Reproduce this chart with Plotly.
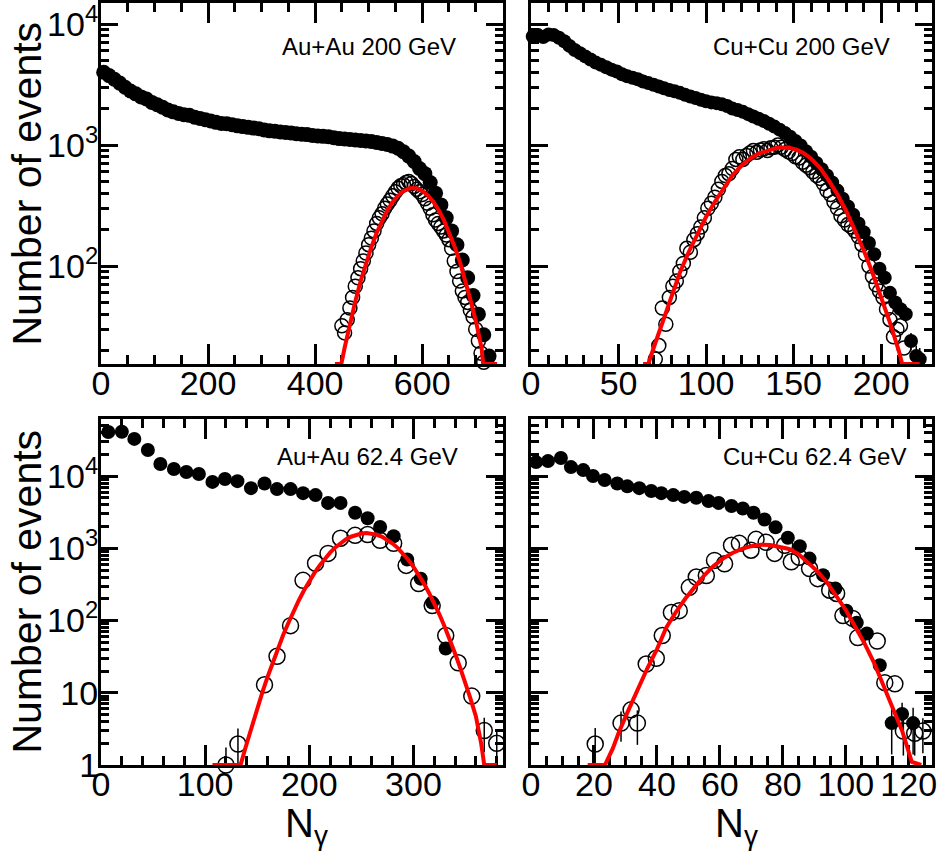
import plotly.graph_objects as go

FONT = "Liberation Sans, Arial, sans-serif"

# ---------------- Au+Au 200 GeV ----------------
auau200_filled_x = [5, 15, 25, 35, 45, 55, 65, 75, 85, 95, 105, 115, 125, 135, 145, 155, 165, 175, 185, 195,
                    205, 215, 225, 235, 245, 255, 265, 275, 285, 295, 305, 315, 325, 335, 345, 355, 365, 375,
                    385, 395, 405, 415, 425, 435, 445, 455, 465, 475, 485, 495, 505, 515, 525, 535, 545, 555,
                    565, 575, 585, 595, 605, 615, 625, 635, 645, 655, 665, 675, 685, 695, 705, 715, 725]
auau200_filled_y = [4000, 3750, 3500, 3250, 3000, 2800, 2650, 2500, 2400, 2250, 2150, 2050, 1950, 1880, 1820,
                    1780, 1760, 1700, 1660, 1620, 1580, 1540, 1510, 1500, 1470, 1440, 1420, 1400, 1380, 1360,
                    1330, 1310, 1300, 1280, 1270, 1260, 1240, 1230, 1220, 1200, 1190, 1180, 1170, 1150, 1130,
                    1120, 1110, 1100, 1090, 1080, 1070, 1050, 1030, 1010, 980, 940, 880, 810, 730, 640, 580,
                    490, 400, 320, 250, 195, 150, 112, 80, 57, 40, 27, 18]
auau200_open_x = [450, 455, 460, 465, 470, 475, 480, 485, 490, 495, 500, 505, 510, 515, 520, 525, 530, 535,
                  540, 545, 550, 555, 560, 565, 570, 575, 580, 585, 590, 595, 600, 605, 610, 615, 620, 625,
                  630, 635, 640, 645, 650, 655, 660, 665, 670, 675, 680, 685, 690, 695, 700, 705, 710, 715]
auau200_open_y = [32, 28, 36, 45, 55, 68, 80, 95, 110, 128, 150, 170, 195, 225, 250, 270, 300, 325, 350, 380,
                  410, 440, 460, 470, 490, 500, 480, 455, 430, 410, 390, 360, 330, 300, 265, 240, 225, 210,
                  195, 180, 165, 140, 110, 90, 75, 62, 55, 50, 43, 38, 30, 24, 19, 16]
auau200_fit_x = [437, 449, 455, 465, 475, 485, 495, 505, 515, 525, 535, 545, 555, 565, 575, 583, 591, 601,
                 611, 621, 631, 641, 651, 661, 671, 681, 691, 701, 711, 714, 740]
auau200_fit_y = [15.5, 15.5, 21, 34, 51, 75, 106, 143, 188, 237, 289, 338, 382, 416, 437, 442, 437, 416,
                 382, 338, 289, 237, 188, 143, 106, 75, 51, 34, 21, 15.5, 15.5]

# ---------------- Cu+Cu 200 GeV ----------------
cucu200_filled_x = [1, 4, 7, 10, 13, 16, 19, 22, 25, 28, 31, 34, 37, 40, 43, 46, 49, 52, 55, 58, 61, 64, 67,
                    70, 73, 76, 79, 82, 85, 88, 91, 94, 97, 100, 103, 106, 109, 112, 115, 118, 121, 124, 127,
                    130, 133, 136, 139, 142, 145, 148, 151, 154, 157, 160, 163, 166, 169, 172, 175, 178, 181,
                    184, 187, 190, 193, 196, 199, 202, 205, 208, 211, 214, 217, 220, 222]
cucu200_filled_y = [7900, 8100, 7800, 8200, 8100, 7700, 7200, 6600, 6100, 5750, 5400, 5100, 4800, 4600, 4400,
                    4200, 4050, 3850, 3700, 3600, 3500, 3350, 3250, 3150, 3050, 2950, 2850, 2780, 2700, 2600,
                    2520, 2450, 2370, 2300, 2250, 2220, 2170, 2100, 2000, 1950, 1880, 1800, 1720, 1650, 1580,
                    1500, 1420, 1340, 1260, 1170, 1080, 990, 890, 800, 710, 630, 560, 490, 420, 360, 310,
                    265, 225, 190, 155, 125, 95, 80, 60, 50, 44, 40, 24, 18, 17]
cucu200_filled_err = [0] * 70 + [4, 4, 4, 4, 4]
cucu200_open_x = [71, 73, 75, 77, 79, 81, 83, 85, 87, 89, 91, 93, 95, 97, 99, 101, 103, 105, 107, 109, 111,
                  113, 115, 117, 119, 121, 123, 125, 127, 129, 131, 133, 135, 137, 139, 141, 143, 145, 147,
                  149, 151, 153, 155, 157, 159, 161, 163, 165, 167, 169, 171, 173, 175, 177, 179, 181, 183,
                  185, 187, 189, 191, 193, 195, 197, 199, 201, 203, 205, 207, 209, 211, 213]
cucu200_open_y = [17, 22, 45, 33, 55, 68, 75, 90, 105, 140, 130, 165, 185, 210, 250, 300, 330, 370, 430, 500,
                  560, 580, 640, 760, 800, 760, 820, 860, 900, 870, 910, 930, 900, 950, 960, 1000, 960, 920,
                  880, 850, 800, 780, 720, 680, 650, 600, 560, 530, 480, 420, 390, 340, 300, 260, 240, 220,
                  210, 195, 175, 150, 125, 100, 82, 70, 62, 55, 44, 36, 26, 30, 32, 21]
cucu200_fit_x = [64, 67, 70, 75, 80, 85, 90, 95, 100, 105, 110, 115, 120, 125, 130, 135, 140, 144, 148, 152,
                 156, 160, 165, 170, 175, 180, 185, 190, 195, 200, 205, 210, 212, 222]
cucu200_fit_y = [15.5, 15.5, 21, 34, 55, 88, 130, 185, 255, 340, 440, 560, 670, 770, 850, 905, 945, 955, 945,
                 910, 850, 770, 650, 510, 390, 285, 200, 135, 88, 56, 34, 20, 15.5, 15.5]

# ---------------- Au+Au 62.4 GeV ----------------
auau62_filled_x = [7, 20, 32, 45, 57, 70, 82, 94, 107, 119, 131, 144, 157, 169, 182, 194, 206, 218, 230, 244,
                   256, 268, 281, 294, 307, 318, 331]
auau62_filled_y = [40700, 41000, 32700, 23000, 14700, 12500, 11400, 10700, 8300, 9100, 8500, 6800, 7900, 6600,
                   6600, 5800, 5450, 4250, 4250, 3100, 2600, 1970, 1470, 700, 380, 177, 41]
auau62_open_x = [120, 131.5, 157, 169, 182, 194, 206, 218, 230, 244, 256, 268, 281, 293, 305, 318, 331, 343,
                 356, 368, 380]
auau62_open_y = [1.0, 1.95, 12.9, 32, 85, 360, 620, 850, 1380, 1510, 1550, 1290, 1170, 580, 325, 161, 62, 26,
                 9, 3.0, 2.0]
auau62_open_err = [0.75, 1.25, 0, 0, 0, 0, 0, 0, 0, 0, 0, 0, 0, 0, 0, 0, 0, 0, 0, 1.5, 0.95]
auau62_fit_x = [107, 134, 140, 145, 150, 155, 160, 165, 170, 175, 180, 185, 190, 195, 200, 205, 210, 215, 220,
                225, 230, 235, 240, 245, 250, 255, 260, 265, 270, 275, 280, 285, 290, 295, 300, 305, 310, 315,
                320, 325, 330, 335, 340, 345, 350, 355, 360, 365, 368, 380]
auau62_fit_y = [1, 1, 2.0, 3.5, 6.1, 10.2, 16.7, 26.7, 41.5, 63.6, 93, 135, 191, 262, 350, 457, 581, 721, 871,
                1028, 1177, 1324, 1446, 1542, 1601, 1622, 1600, 1538, 1439, 1312, 1164, 1007, 848, 695, 555,
                432, 327, 241, 173, 121, 82, 55, 35, 22, 13.6, 8.1, 4.7, 2.0, 1, 1]

# ---------------- Cu+Cu 62.4 GeV ----------------
cucu62_filled_x = [1.6, 5.4, 9.5, 12.7, 16.6, 19.7, 23.4, 27.4, 30.6, 34.4, 38.2, 41.4, 45.2, 48.7, 52.5,
                   56.4, 59.6, 63.7, 67.3, 70.7, 74.2, 77.7, 81.6, 85.4, 88.5, 92.8, 96.7, 100.2, 103.5, 106.7,
                   110.8, 114.6, 117.9, 121.4]
cucu62_filled_y = [15600, 16100, 17800, 13300, 12100, 10000, 8800, 7900, 7200, 6800, 6200, 5800, 5450, 5150,
                   5000, 4500, 4250, 3850, 3550, 3100, 2500, 1950, 1400, 1070, 720, 425, 278, 137, 93, 66, 24,
                   3.8, 5.1, 3.8]
cucu62_filled_err = [0] * 31 + [2.4, 2.2, 2.4]
cucu62_open_x = [20.4, 28.6, 31.8, 33.8, 36.6, 39.8, 41.7, 44.6, 47.1, 50.3, 52.5, 55.7, 58.3, 61.5, 63.7,
                 66.2, 69.9, 71.5, 74.7, 77.4, 80.6, 82.7, 85.2, 88.5, 91.1, 94.9, 97.1, 99.1, 102.2, 103.8,
                 110, 112.4, 115.6, 118.3, 121.9, 124.5]
cucu62_open_y = [1.95, 3.8, 5.8, 3.8, 25, 30, 62, 129, 137, 288, 400, 420, 680, 610, 1100, 1170, 940, 1330,
                 1210, 850, 1100, 650, 750, 525, 380, 263, 237, 117, 107, 58, 52, 13.8, 13.3, 2.95, 2.75, 2.95]
cucu62_open_err = [1.3, 1.7, 0, 1.9] + [0] * 29 + [1.6, 1.4, 1.5]
cucu62_fit_x = [18, 23.5, 26, 28, 31, 34, 37, 40, 43, 46, 49, 52, 55, 58, 61, 64, 67, 70, 73, 76, 79, 82, 85,
                88, 91, 94, 97, 100, 103, 106, 109, 112, 115, 118, 121, 124]
cucu62_fit_y = [1, 1, 1.7, 2.9, 5.8, 11.5, 22, 40, 80, 130, 200, 290, 420, 570, 720, 860, 980, 1070, 1120,
                1110, 1060, 980, 830, 640, 480, 340, 215, 140, 82, 48, 26, 12.5, 5.8, 2.9, 1.1, 1]

panel_labels = ["Au+Au 200 GeV", "Cu+Cu 200 GeV", "Au+Au 62.4 GeV", "Cu+Cu 62.4 GeV"]
top_tickvals = [100, 1000, 10000]
top_ticktext = ["10<sup>2</sup>", "10<sup>3</sup>", "10<sup>4</sup>"]
bot_tickvals = [1, 10, 100, 1000, 10000]
bot_ticktext = ["1", "10", "10<sup>2</sup>", "10<sup>3</sup>", "10<sup>4</sup>"]

W, H = 939, 855


def px_x(a, b):
    return [a / W, b / W]


def px_y(top, bottom):
    return [1 - bottom / H, 1 - top / H]


fig = go.Figure()

panels = [
    dict(fx=auau200_filled_x, fy=auau200_filled_y, fe=None, ox=auau200_open_x, oy=auau200_open_y, oe=None,
         rx=auau200_fit_x, ry=auau200_fit_y, fs=15, os=14),
    dict(fx=cucu200_filled_x, fy=cucu200_filled_y, fe=cucu200_filled_err, ox=cucu200_open_x,
         oy=cucu200_open_y, oe=None, rx=cucu200_fit_x, ry=cucu200_fit_y, fs=14, os=14),
    dict(fx=auau62_filled_x, fy=auau62_filled_y, fe=None, ox=auau62_open_x, oy=auau62_open_y,
         oe=auau62_open_err, rx=auau62_fit_x, ry=auau62_fit_y, fs=14, os=16),
    dict(fx=cucu62_filled_x, fy=cucu62_filled_y, fe=cucu62_filled_err, ox=cucu62_open_x, oy=cucu62_open_y,
         oe=cucu62_open_err, rx=cucu62_fit_x, ry=cucu62_fit_y, fs=14, os=16),
]

for i, p in enumerate(panels):
    xa = "x" if i == 0 else f"x{i + 1}"
    ya = "y" if i == 0 else f"y{i + 1}"
    ferr = dict(type="data", array=p["fe"], visible=True, color="black", thickness=1.5, width=0) if p["fe"] else None
    oerr = dict(type="data", array=p["oe"], visible=True, color="black", thickness=1.5, width=0) if p["oe"] else None
    fig.add_trace(go.Scatter(x=p["fx"], y=p["fy"], mode="markers", xaxis=xa, yaxis=ya, error_y=ferr,
                             marker=dict(symbol="circle", size=p["fs"], color="black"),
                             cliponaxis=False, showlegend=False))
    fig.add_trace(go.Scatter(x=p["ox"], y=p["oy"], mode="markers", xaxis=xa, yaxis=ya, error_y=oerr,
                             marker=dict(symbol="circle-open", size=p["os"], color="black",
                                         line=dict(width=1.5, color="black")),
                             cliponaxis=False, showlegend=False))
    fig.add_trace(go.Scatter(x=p["rx"], y=p["ry"], mode="lines", xaxis=xa, yaxis=ya,
                             line=dict(color="#ff0000", width=4), showlegend=False))

xdom = [px_x(101, 503), px_x(531, 932), px_x(101, 503), px_x(531, 932)]
ydom = [px_y(3, 364), px_y(3, 364), px_y(419, 765), px_y(419, 765)]
xranges = [[0, 751], [0, 229], [0, 386], [0, 127.4]]
xdticks = [200, 50, 100, 20]
xminor = [50, 10, 20, 5]
yranges = [[1.19, 4.174], [1.19, 4.174], [0, 4.79], [0, 4.79]]

top_minor = [m * d for d in (10, 100, 1000) for m in range(2, 10)]
bot_minor = [m * d for d in (1, 10, 100, 1000, 10000) for m in range(2, 10)]

layout = dict(width=W, height=H, margin=dict(l=0, r=0, t=0, b=0, autoexpand=False), plot_bgcolor="white",
              paper_bgcolor="white", font=dict(family=FONT, color="black"), showlegend=False)

for i in range(4):
    xk = "xaxis" if i == 0 else f"xaxis{i + 1}"
    yk = "yaxis" if i == 0 else f"yaxis{i + 1}"
    xa = "x" if i == 0 else f"x{i + 1}"
    ya = "y" if i == 0 else f"y{i + 1}"
    layout[xk] = dict(domain=xdom[i], range=xranges[i], anchor=ya, tick0=0, dtick=xdticks[i],
                      ticks="inside", ticklen=20, tickwidth=2.5, tickcolor="black",
                      minor=dict(dtick=xminor[i], tick0=0, ticks="inside", ticklen=9, tickwidth=2.5,
                                 tickcolor="black", showgrid=False),
                      showline=True, linewidth=3, linecolor="black", mirror="allticks",
                      showgrid=False, zeroline=False, layer="below traces", automargin=False,
                      ticklabelstandoff=-13, ticklabeloverflow="allow",
                      tickfont=dict(size=34, family=FONT, color="black"))
    top = i < 2
    layout[yk] = dict(domain=ydom[i], range=yranges[i], anchor=xa, type="log",
                      tickmode="array", tickvals=top_tickvals if top else bot_tickvals,
                      ticktext=top_ticktext if top else bot_ticktext,
                      showticklabels=(i % 2 == 0),
                      ticks="inside", ticklen=17, tickwidth=2.5, tickcolor="black",
                      minor=dict(tickmode="array", tickvals=top_minor if top else bot_minor,
                                 ticks="inside", ticklen=8, tickwidth=2.5, tickcolor="black", showgrid=False),
                      showline=True, linewidth=3, linecolor="black", mirror="allticks",
                      showgrid=False, zeroline=False, layer="below traces", automargin=False,
                      ticklabelstandoff=-7, ticklabeloverflow="allow",
                      tickfont=dict(size=34, family=FONT, color="black"))

annotations = []
# y titles
for yc in (183.5, 591.5):
    annotations.append(dict(text="Number of events", x=26 / W, y=1 - yc / H, xref="paper", yref="paper",
                            textangle=-90, showarrow=False, font=dict(size=41, family=FONT, color="black"),
                            xanchor="center", yanchor="middle"))
# x titles
for xl in (283, 713):
    annotations.append(dict(text="N<sub>γ</sub>", x=xl / W, y=1 - 826 / H, xref="paper", yref="paper",
                            showarrow=False, font=dict(size=40, family=FONT, color="black"),
                            xanchor="left", yanchor="middle"))
# panel labels
label_pos = [(458, 46), (892, 46), (460, 456), (908, 456)]
for (xr, yc), txt in zip(label_pos, panel_labels):
    annotations.append(dict(text=txt, x=xr / W, y=1 - yc / H, xref="paper", yref="paper", showarrow=False,
                            font=dict(size=24, family=FONT, color="black"), xanchor="right", yanchor="middle"))
layout["annotations"] = annotations

fig.update_layout(**layout)
fig.write_html("out.html", config={"displayModeBar": False},
               post_script="document.body.style.margin='0px';")
